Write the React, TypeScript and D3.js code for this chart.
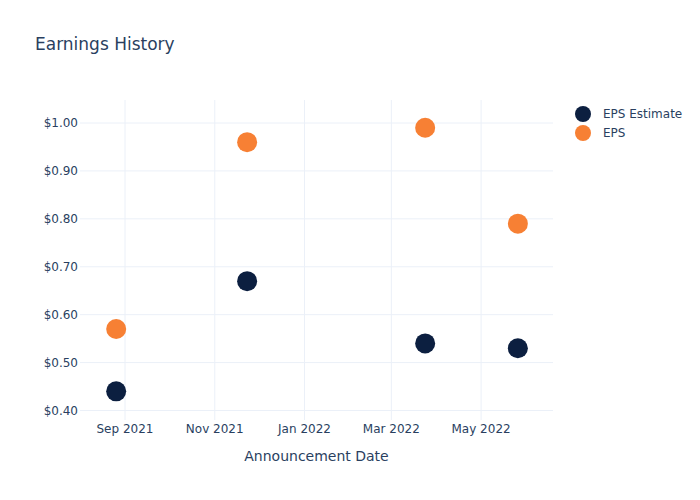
import React from "react";
import * as d3 from "d3";

const dates = ["2021-08-26", "2021-11-23", "2022-03-24", "2022-05-26"];
const epsEstimate = [0.44, 0.67, 0.54, 0.53];
const eps = [0.57, 0.96, 0.99, 0.79];
const yTicks = [0.4, 0.5, 0.6, 0.7, 0.8, 0.9, 1.0];
const xTicks = ["2021-09-01", "2021-11-01", "2022-01-01", "2022-03-01", "2022-05-01"];
const xDomain = ["2021-08-01T10:00", "2022-06-18T21:00"];
const seriesNames = ["EPS Estimate", "EPS"];
const seriesColors = ["#0c1f40", "#f78034"];

const W = 700, H = 500;
const M = { l: 80, r: 147, t: 100, b: 80 };
const FONT = "'DejaVu Sans', Verdana, sans-serif";
const TXT = "#2a3f5f";
const GRID = "#ebf0f8";

export default function App() {
  const parse = d3.utcParse("%Y-%m-%d");
  const parseT = d3.utcParse("%Y-%m-%dT%H:%M");
  const x = d3
    .scaleUtc()
    .domain([parseT(xDomain[0])!, parseT(xDomain[1])!])
    .range([M.l, W - M.r]);
  const y = d3.scaleLinear().domain([0.3802, 1.048]).range([H - M.b, M.t]);
  const fmtX = d3.utcFormat("%b %Y");
  const fmtY = (v: number) => "$" + v.toFixed(2);
  const series = [epsEstimate, eps];

  return (
    <svg width={W} height={H} style={{ display: "block", position: "absolute", left: 0, top: 0, background: "#fff" }} fontFamily={FONT}>
      <text x={35} y={50} fontSize={17} fill={TXT}>Earnings History</text>
      {yTicks.map((t) => (
        <g key={"y" + t}>
          <line x1={M.l} x2={W - M.r} y1={y(t)} y2={y(t)} stroke={GRID} strokeWidth={1} />
          <text x={M.l - 2} y={y(t)} dy="0.35em" textAnchor="end" fontSize={12} fill={TXT}>{fmtY(t)}</text>
        </g>
      ))}
      {xTicks.map((s) => {
        const d = parse(s)!;
        return (
          <g key={s}>
            <line x1={x(d)} x2={x(d)} y1={M.t} y2={H - M.b} stroke={GRID} strokeWidth={1} />
            <text x={x(d)} y={H - M.b + 13} textAnchor="middle" fontSize={12} fill={TXT}>{fmtX(d)}</text>
          </g>
        );
      })}
      <text x={(M.l + W - M.r) / 2} y={461} textAnchor="middle" fontSize={14} fill={TXT}>Announcement Date</text>
      {series.map((vals, si) => (
        <g key={"s" + si}>
          {vals.map((v, i) => (
            <circle key={i} cx={x(parse(dates[i])!)} cy={y(v)} r={10} fill={seriesColors[si]} />
          ))}
        </g>
      ))}
      {seriesNames.map((n, i) => (
        <g key={n} transform={`translate(583,${114 + i * 19})`}>
          <circle r={8} fill={seriesColors[i]} />
          <text x={20} dy="0.35em" fontSize={12} fill={TXT}>{n}</text>
        </g>
      ))}
    </svg>
  );
}
